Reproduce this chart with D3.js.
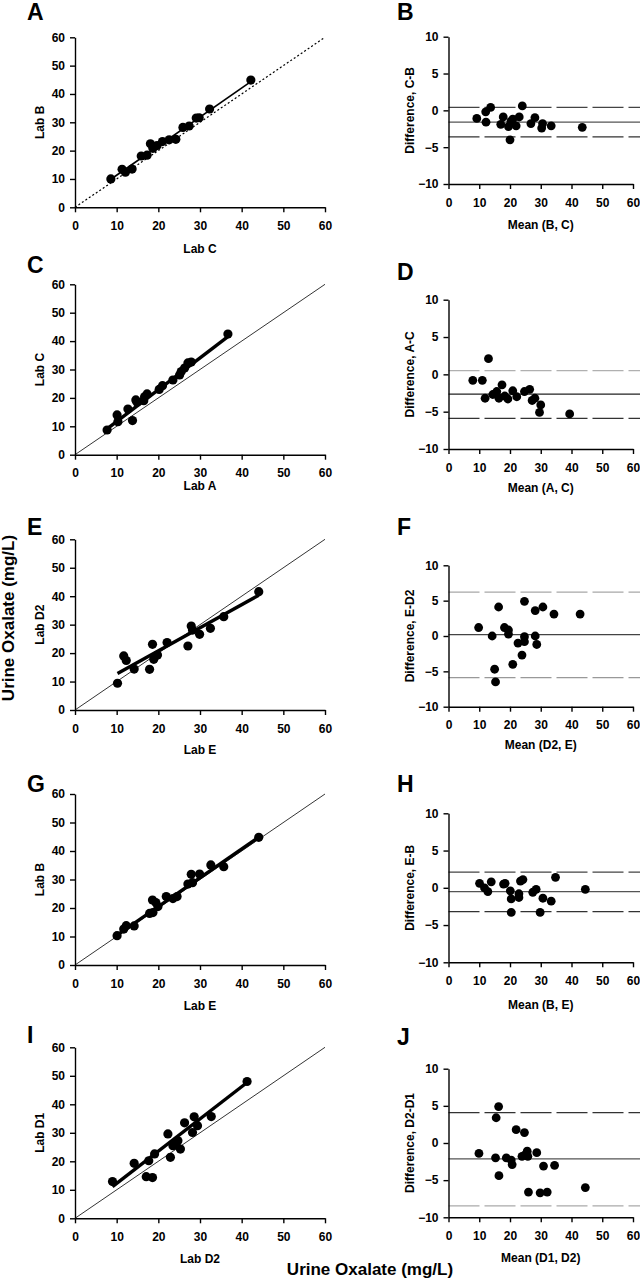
<!DOCTYPE html>
<html><head><meta charset="utf-8">
<script src="https://cdn.jsdelivr.net/npm/d3@7"></script>
<style>
body{margin:0;background:#fff}
svg{display:block}
text{font-family:"Liberation Sans",Arial,Helvetica,sans-serif;font-weight:bold;fill:#000}
.tick text{font-size:12px}
.title{font-size:12px}
.letter{font-size:23px}
.big{font-size:17px}
</style>
</head><body>
<svg id="chart" width="640" height="1280"></svg>
<script>
// ---------- tick labels ----------
const ticksScatter = [0, 10, 20, 30, 40, 50, 60];
const ticksMean = [0, 10, 20, 30, 40, 50, 60];
const ticksDiff = [-10, -5, 0, 5, 10];

// ---------- Panel A: Lab C vs Lab B ----------
const labC_A = [8.6, 11.3, 12.1, 13.7, 15.9, 17.3, 18.1, 18.7, 19.7, 21.0, 22.6, 24.2, 25.9, 27.4, 29.1, 29.8, 32.3, 42.2];
const labB_A = [10.0, 13.4, 12.4, 13.5, 18.1, 18.4, 22.4, 20.8, 21.8, 23.2, 23.8, 24.0, 28.2, 28.7, 31.5, 31.6, 34.7, 44.9];
const fitA = [1.025, 1.1]; // slope, intercept

// ---------- Panel B: Mean (B, C) vs C-B ----------
const meanBC = [9.2, 12.1, 12.2, 13.7, 17.0, 17.8, 19.5, 20.3, 20.0, 20.9, 22.0, 23.0, 24.0, 26.8, 28.1, 30.3, 30.6, 33.4, 43.5];
const diffCB = [-1.1, -0.2, -1.6, 0.4, -1.9, -0.9, -2.2, -1.5, -4.0, -1.2, -2.1, -0.9, 0.6, -1.8, -1.0, -2.4, -1.8, -2.1, -2.3];
const limitsB = [0.4, -1.6, -3.6]; // upper, mean, lower

// ---------- Panel C: Lab A vs Lab C ----------
const labA_C = [7.7, 10.1, 10.3, 12.7, 13.8, 14.6, 14.9, 16.5, 16.7, 17.3, 20.2, 21.0, 23.5, 25.1, 25.5, 26.3, 27.1, 27.9, 36.7];
const labC_C = [8.7, 14.0, 11.6, 16.1, 12.0, 19.3, 18.5, 19.0, 20.4, 21.4, 23.0, 24.3, 26.3, 28.1, 29.3, 30.5, 32.3, 32.6, 42.5];
const fitC = [1.12, 0.5];

// ---------- Panel D: Mean (A, C) vs A-C ----------
const meanAC = [7.9, 11.0, 13.0, 11.9, 14.4, 15.7, 16.4, 17.4, 18.3, 19.3, 20.9, 22.2, 24.7, 26.4, 27.2, 28.1, 30.0, 29.6, 39.4];
const diffAC = [-0.8, -0.8, 2.1, -3.2, -2.7, -2.3, -3.2, -1.4, -2.9, -3.3, -2.2, -3.0, -2.3, -2.0, -3.5, -3.2, -4.1, -5.1, -5.3];
const limitsD = [0.5, -2.65, -5.9];

// ---------- Panel E: Lab E vs Lab D2 ----------
const labE_E = [10.2, 11.7, 12.3, 14.2, 17.9, 18.6, 18.9, 19.8, 22.1, 27.1, 27.9, 28.2, 29.9, 32.5, 35.7, 44.1];
const labD2_E = [9.4, 19.0, 17.4, 14.4, 14.3, 23.1, 17.8, 19.3, 23.7, 22.5, 29.5, 28.1, 26.6, 28.7, 32.8, 41.6];
const fitE = [0.81, 4.6];

// ---------- Panel F: Mean (D2, E) vs E-D2 ----------
const meanD2E = [9.8, 14.2, 15.0, 15.3, 16.3, 18.2, 19.5, 19.5, 20.9, 22.6, 23.9, 24.7, 24.7, 24.7, 28.2, 28.2, 28.7, 30.7, 34.3, 42.8];
const diffED2 = [1.2, 0.0, -4.7, -6.5, 4.1, 1.2, 0.85, 0.28, -4.0, -1.0, -2.7, 4.9, -0.1, -0.8, 3.6, 0.0, -1.2, 4.1, 3.1, 3.1];
const limitsF = [6.2, 0.2, -5.9];

// ---------- Panel G: Lab E vs Lab B ----------
const labE_G = [10.1, 11.7, 12.3, 14.2, 17.9, 18.7, 18.6, 19.4, 19.9, 21.9, 23.5, 24.5, 27.1, 28.2, 27.9, 29.9, 32.6, 35.7, 44.1];
const labB_G = [10.3, 12.6, 13.8, 13.7, 18.1, 18.4, 22.8, 21.9, 20.5, 24.0, 23.3, 24.0, 28.4, 28.9, 31.8, 31.9, 35.1, 34.5, 44.8];
const fitG = [1.01, 0.3];

// ---------- Panel H: Mean (B, E) vs E-B ----------
const meanBE = [10.1, 11.7, 12.8, 13.9, 17.9, 18.4, 20.1, 20.4, 20.4, 22.9, 22.9, 23.4, 24.2, 27.4, 28.5, 29.8, 30.7, 33.4, 34.8, 44.5];
const diffEB = [0.6, 0.0, -0.5, 0.8, 0.5, 0.6, -0.4, -1.5, -3.3, -0.8, -1.3, 0.9, 1.1, -0.6, -0.2, -3.3, -1.4, -1.8, 1.4, -0.2];
const limitsH = [2.1, -0.5, -3.2];

// ---------- Panel I: Lab D2 vs Lab D1 ----------
const labD2_I = [9.0, 14.2, 17.1, 18.6, 17.7, 19.1, 22.3, 22.9, 23.5, 24.3, 24.7, 25.3, 26.3, 28.6, 28.2, 29.4, 32.7, 41.3];
const labD1_I = [12.9, 19.3, 14.6, 14.3, 20.2, 22.6, 29.6, 21.4, 25.5, 26.3, 27.2, 24.3, 33.5, 35.6, 30.1, 32.5, 35.7, 48.0];
const fitI = [1.13, 0.97];

// ---------- Panel J: Mean (D1, D2) vs D2-D1 ----------
const meanD1D2 = [9.9, 15.3, 15.5, 16.3, 16.4, 18.8, 20.4, 20.7, 22.0, 23.9, 24.7, 24.9, 25.6, 25.8, 26.0, 28.7, 29.8, 30.9, 32.1, 34.5, 44.5];
const diffD2D1 = [-1.4, -2.0, 3.4, 4.9, -4.4, -2.0, -2.3, -2.9, 1.8, -1.8, 1.4, -1.6, -1.1, -1.8, -6.6, -1.3, -6.7, -3.1, -6.6, -3.0, -6.0];
const limitsJ = [4.1, -2.15, -8.45];

// ---------- layout ----------
const svg = d3.select("#chart");

const scatterPanels = [
  {letter: "A", xs: labC_A, ys: labB_A, fit: fitA, xt: "Lab C", yt: "Lab B", top: 37.3, bottom: 207.3, letterY: 20, xtOff: 41, dottedIdentity: true, fitW: 1.7},
  {letter: "C", xs: labA_C, ys: labC_C, fit: fitC, xt: "Lab A", yt: "Lab C", top: 284.3, bottom: 454.7, letterY: 272.5, xtOff: 31, dottedIdentity: false, fitW: 3.4},
  {letter: "E", xs: labE_E, ys: labD2_E, fit: fitE, xt: "Lab E", yt: "Lab D2", top: 539.3, bottom: 710, letterY: 535, xtOff: 39.5, dottedIdentity: false, fitW: 3.4},
  {letter: "G", xs: labE_G, ys: labB_G, fit: fitG, xt: "Lab E", yt: "Lab B", top: 794, bottom: 965, letterY: 791.5, xtOff: 41, dottedIdentity: false, fitW: 3.4},
  {letter: "I", xs: labD2_I, ys: labD1_I, fit: fitI, xt: "Lab D2", yt: "Lab D1", top: 1047.3, bottom: 1218.3, letterY: 1043, xtOff: 40, dottedIdentity: false, fitW: 3.4}
];

const baPanels = [
  {letter: "B", xs: meanBC, ys: diffCB, lim: limitsB, xt: "Mean (B, C)", yt: "Difference, C-B", top: 36.7, bottom: 184, letterY: 19.5, xtOff: 41, colors: ["#444", "#555", "#333"]},
  {letter: "D", xs: meanAC, ys: diffAC, lim: limitsD, xt: "Mean (A, C)", yt: "Difference, A-C", top: 299.7, bottom: 449, letterY: 280, xtOff: 39, colors: ["#b0b0b0", "#222", "#333"]},
  {letter: "F", xs: meanD2E, ys: diffED2, lim: limitsF, xt: "Mean (D2, E)", yt: "Difference, E-D2", top: 565.3, bottom: 706.7, letterY: 535, xtOff: 38.3, colors: ["#a8a8a8", "#444", "#999"]},
  {letter: "H", xs: meanBE, ys: diffEB, lim: limitsH, xt: "Mean (B, E)", yt: "Difference, E-B", top: 813.3, bottom: 962.3, letterY: 791.5, xtOff: 42.7, colors: ["#444", "#555", "#333"]},
  {letter: "J", xs: meanD1D2, ys: diffD2D1, lim: limitsJ, xt: "Mean (D1, D2)", yt: "Difference, D2-D1", top: 1068.7, bottom: 1217.3, letterY: 1045, xtOff: 40, colors: ["#333", "#555", "#aaa"]}
];

function styleAxis(g) {
  g.attr("font-size", null).attr("font-family", null);
  g.select(".domain").attr("stroke", "#000").attr("stroke-width", 1.4);
  g.selectAll(".tick line").attr("stroke", "#000").attr("stroke-width", 1.4);
}

function drawAxes(x, y, xTicks, yTicks, p, x0, yTitleX) {
  svg.append("g").attr("transform", `translate(0,${p.bottom})`)
    .call(d3.axisBottom(x).tickValues(xTicks).tickSize(5).tickSizeOuter(0).tickPadding(9).tickFormat(d3.format("d")))
    .call(styleAxis);
  svg.append("g").attr("transform", `translate(${x0},0)`)
    .call(d3.axisLeft(y).tickValues(yTicks).tickSize(5).tickSizeOuter(0).tickPadding(5).tickFormat(d3.format("d")))
    .call(styleAxis);
  const [r0, r1] = x.range();
  svg.append("text").attr("class", "title").attr("text-anchor", "middle")
    .attr("x", (r0 + r1) / 2).attr("y", p.bottom + p.xtOff + 4.3).text(p.xt);
  svg.append("text").attr("class", "title").attr("text-anchor", "middle")
    .attr("transform", `translate(${yTitleX},${(p.top + p.bottom) / 2}) rotate(-90)`).text(p.yt);
}

// scatter (method comparison) panels
scatterPanels.forEach(p => {
  const x0 = 75, x1 = 325;
  const x = d3.scaleLinear().domain([0, 60]).range([x0, x1]);
  const y = d3.scaleLinear().domain([0, 60]).range([p.bottom, p.top]);
  // line of identity
  svg.append("line")
    .attr("x1", x(0)).attr("y1", y(0)).attr("x2", x(60)).attr("y2", y(60))
    .attr("stroke", "#000")
    .attr("stroke-width", p.dottedIdentity ? 1.2 : 0.8)
    .attr("stroke-dasharray", p.dottedIdentity ? "2,2.2" : null);
  // regression line over the range of data
  const [xmin, xmax] = d3.extent(p.xs);
  const f = v => p.fit[0] * v + p.fit[1];
  svg.append("line")
    .attr("x1", x(xmin)).attr("y1", y(f(xmin))).attr("x2", x(xmax)).attr("y2", y(f(xmax)))
    .attr("stroke", "#000").attr("stroke-width", p.fitW);
  // points
  svg.append("g").selectAll("circle").data(p.xs.map((v, i) => [v, p.ys[i]])).join("circle")
    .attr("cx", d => x(d[0])).attr("cy", d => y(d[1])).attr("r", 4.6).attr("fill", "#000");
  drawAxes(x, y, ticksScatter, ticksScatter, p, x0, 44);
  svg.append("text").attr("class", "letter").attr("x", 27).attr("y", p.letterY).text(p.letter);
});

// Bland-Altman panels
baPanels.forEach(p => {
  const x0 = 448.5, x1 = 633;
  const x = d3.scaleLinear().domain([0, 60]).range([x0, x1]);
  const y = d3.scaleLinear().domain([-10, 10]).range([p.bottom, p.top]);
  p.lim.forEach((v, i) => {
    svg.append("line")
      .attr("x1", x0).attr("x2", 640).attr("y1", y(v)).attr("y2", y(v))
      .attr("stroke", p.colors[i]).attr("stroke-width", 1.3)
      .attr("stroke-dasharray", i === 1 ? null : "31,5");
  });
  svg.append("g").selectAll("circle").data(p.xs.map((v, i) => [v, p.ys[i]])).join("circle")
    .attr("cx", d => x(d[0])).attr("cy", d => y(d[1])).attr("r", 4.4).attr("fill", "#000");
  drawAxes(x, y, ticksMean, ticksDiff, p, x0, 413.5);
  svg.append("text").attr("class", "letter").attr("x", 397).attr("y", p.letterY).text(p.letter);
});

// shared axis labels
svg.append("text").attr("class", "big").attr("text-anchor", "middle")
  .attr("transform", "translate(13.5,618) rotate(-90)").text("Urine Oxalate (mg/L)");
svg.append("text").attr("class", "big").attr("text-anchor", "middle")
  .attr("x", 370).attr("y", 1275).text("Urine Oxalate (mg/L)");
</script>
</body></html>
